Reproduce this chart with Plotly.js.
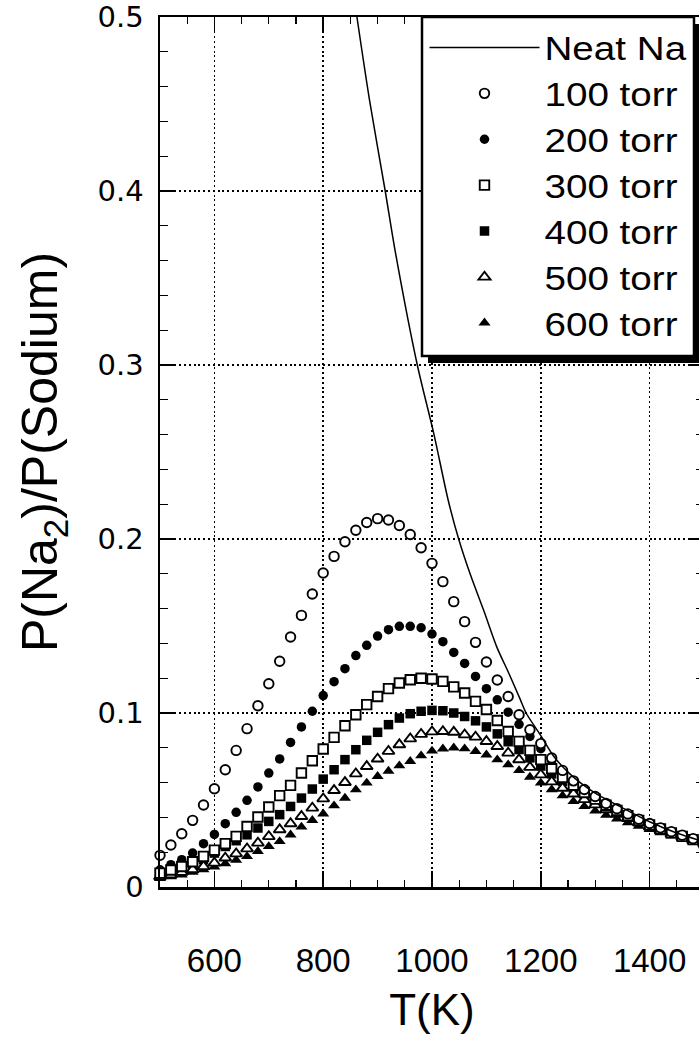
<!DOCTYPE html>
<html>
<head>
<meta charset="utf-8">
<script src="https://cdn.plot.ly/plotly-3.0.1.min.js"></script>
<style>
html,body{margin:0;padding:0;overflow:hidden;background:#fff;}
#chart{width:704px;height:1042px;}
.legendtext{transform-box:fill-box;transform-origin:0% 50%;transform:scaleX(1.17);}
</style>
</head>
<body>
<div id="chart"></div>
<script>
// Temperature grid of the measured points (K)
const temps = [500,520,540,560,580,600,620,640,660,680,700,720,740,760,780,800,820,840,860,880,900,920,940,960,980,1000,1020,1040,1060,1080,1100,1120,1140,1160,1180,1200,1220,1240,1260,1280,1300,1320,1340,1360,1380,1400,1420,1440,1460,1480,1500];

// P(Na2)/P(Sodium) for each buffer-gas pressure
const p100 = [0.0182,0.0241,0.0306,0.0383,0.0471,0.0565,0.0674,0.0785,0.0910,0.1042,0.1168,0.1297,0.1437,0.1561,0.1684,0.1805,0.1900,0.1984,0.2050,0.2095,0.2117,0.2109,0.2078,0.2026,0.1950,0.1860,0.1755,0.1640,0.1525,0.1406,0.1293,0.1190,0.1095,0.0990,0.0904,0.0824,0.0741,0.0670,0.0610,0.0560,0.0520,0.0480,0.0450,0.0420,0.0390,0.0365,0.0340,0.0318,0.0298,0.0278,0.0260];
const p200 = [0.0099,0.0128,0.0157,0.0195,0.0249,0.0302,0.0364,0.0429,0.0498,0.0575,0.0655,0.0736,0.0831,0.0920,0.1010,0.1100,0.1180,0.1255,0.1330,0.1389,0.1442,0.1479,0.1498,0.1498,0.1490,0.1454,0.1410,0.1348,0.1285,0.1210,0.1140,0.1076,0.1005,0.0935,0.0865,0.0795,0.0725,0.0660,0.0603,0.0555,0.0513,0.0475,0.0443,0.0413,0.0385,0.0360,0.0337,0.0315,0.0295,0.0276,0.0258];
const p300 = [0.0080,0.0098,0.0118,0.0145,0.0176,0.0212,0.0249,0.0291,0.0348,0.0402,0.0460,0.0525,0.0584,0.0655,0.0726,0.0793,0.0860,0.0927,0.0990,0.1048,0.1095,0.1140,0.1172,0.1191,0.1200,0.1195,0.1182,0.1150,0.1115,0.1067,0.1020,0.0957,0.0894,0.0837,0.0785,0.0732,0.0680,0.0630,0.0585,0.0543,0.0505,0.0470,0.0440,0.0410,0.0382,0.0356,0.0333,0.0311,0.0291,0.0272,0.0255];
const p400 = [0.0070,0.0085,0.0105,0.0130,0.0157,0.0195,0.0233,0.0266,0.0300,0.0339,0.0377,0.0416,0.0463,0.0511,0.0563,0.0620,0.0674,0.0732,0.0789,0.0843,0.0889,0.0933,0.0971,0.0996,0.1010,0.1015,0.1013,0.1000,0.0980,0.0955,0.0920,0.0880,0.0835,0.0790,0.0742,0.0695,0.0650,0.0608,0.0568,0.0532,0.0498,0.0465,0.0435,0.0406,0.0379,0.0353,0.0330,0.0308,0.0288,0.0269,0.0252];
const p500 = [0.0060,0.0070,0.0085,0.0100,0.0118,0.0138,0.0167,0.0191,0.0220,0.0253,0.0290,0.0330,0.0364,0.0406,0.0454,0.0507,0.0555,0.0601,0.0651,0.0693,0.0736,0.0780,0.0818,0.0852,0.0878,0.0892,0.0894,0.0890,0.0875,0.0862,0.0837,0.0808,0.0770,0.0732,0.0688,0.0645,0.0605,0.0568,0.0535,0.0503,0.0473,0.0445,0.0419,0.0394,0.0370,0.0347,0.0325,0.0305,0.0286,0.0267,0.0250];
const p600 = [0.0050,0.0060,0.0070,0.0085,0.0100,0.0115,0.0135,0.0155,0.0176,0.0205,0.0233,0.0262,0.0300,0.0345,0.0383,0.0421,0.0467,0.0511,0.0559,0.0598,0.0636,0.0666,0.0697,0.0722,0.0755,0.0782,0.0794,0.0800,0.0795,0.0780,0.0760,0.0732,0.0703,0.0670,0.0632,0.0598,0.0560,0.0525,0.0492,0.0463,0.0437,0.0413,0.0391,0.0370,0.0350,0.0331,0.0313,0.0296,0.0280,0.0264,0.0248];

// Neat sodium curve
const neatT = [862,885,914,932,973,1003,1030,1049,1070,1095,1119,1141,1162,1173,1200,1224,1250,1273,1300,1350,1400,1450,1500];
const neatRatio = [0.500,0.4525,0.400,0.366,0.300,0.261,0.222,0.200,0.180,0.159,0.138,0.123,0.108,0.100,0.087,0.075,0.066,0.0598,0.054,0.0455,0.0375,0.031,0.026];

// Axis ticks
const xTickVals = [600,800,1000,1200,1400];
const xTickText = ['600','800','1000','1200','1400'];
const yTickVals = [0,0.1,0.2,0.3,0.4,0.5];
const yTickText = ['0','0.1','0.2','0.3','0.4','0.5'];

const seriesNames = ['100 torr','200 torr','300 torr','400 torr','500 torr','600 torr'];

function pts(name, y, symbol, filled, rank){
  return {
    type:'scatter', mode:'markers', name:name, x:temps, y:y,
    legendrank: rank, cliponaxis:false,
    marker:{symbol:symbol, size: symbol.indexOf('triangle')===0 ? 10.5 : 9.5,
      color: filled ? '#000' : '#fff',
      line:{color:'#000', width: filled ? 0 : 1.9}}
  };
}

const traces = [
  pts(seriesNames[5], p600, 'triangle-up', true, 7),
  pts(seriesNames[3], p400, 'square', true, 5),
  pts(seriesNames[1], p200, 'circle', true, 3),
  pts(seriesNames[4], p500, 'triangle-up', false, 6),
  pts(seriesNames[2], p300, 'square', false, 4),
  pts(seriesNames[0], p100, 'circle', false, 2),
  {type:'scatter', mode:'lines', name:'Neat Na', x:neatT, y:neatRatio, legendrank:1, cliponaxis:true,
   line:{color:'#000', width:1.5, shape:'spline', smoothing:0.8}}
];

const px2paperX = p => (p-160)/544;
const px2paperY = p => (887-p)/870;
const FONT = 'Liberation Sans, Arial, sans-serif';

const layout = {
  width:704, height:1042,
  margin:{l:160, r:0, t:17, b:155},
  paper_bgcolor:'#fff', plot_bgcolor:'#fff',
  font:{family:FONT, color:'#000'},
  showlegend:true,
  xaxis:{
    range:[500,1500], tickmode:'array', tickvals:xTickVals, ticktext:xTickText,
    ticks:'inside', ticklen:14, tickwidth:1.6, tickcolor:'#000',
    minor:{tick0:500, dtick:50, ticks:'inside', ticklen:7, tickwidth:1.3, tickcolor:'#000', showgrid:false},
    showline:true, linewidth:2.5, linecolor:'#000', mirror:'ticks',
    showgrid:true, gridcolor:'#000', gridwidth:1.8, griddash:'2px,2.8px',
    zeroline:false, ticklabeloverflow:'allow',
    tickfont:{size:33, family:FONT, color:'#000'},
    ticklabelstandoff:43,
    title:{text:'T(K)', font:{size:44, family:FONT}, standoff:16}
  },
  yaxis:{
    range:[0,0.5], tickmode:'array', tickvals:yTickVals, ticktext:yTickText,
    ticks:'inside', ticklen:16, tickwidth:1.6, tickcolor:'#000',
    minor:{tick0:0, dtick:0.02, ticks:'inside', ticklen:8, tickwidth:1.3, tickcolor:'#000', showgrid:false},
    showline:true, linewidth:2.5, linecolor:'#000', mirror:'ticks',
    showgrid:true, gridcolor:'#000', gridwidth:1.8, griddash:'2px,2.8px',
    zeroline:false, ticklabeloverflow:'allow',
    tickfont:{size:29, family:'DejaVu Sans, sans-serif', color:'#000'},
    ticklabelstandoff:8,
    title:{text:'P(Na<sub>2</sub>)/P(Sodium)', font:{size:50, family:FONT}, standoff:24}
  },
  legend:{
    x:px2paperX(424.5), xanchor:'left', y:px2paperY(19.5), yanchor:'top',
    bgcolor:'rgba(0,0,0,0)', borderwidth:0,
    font:{size:33, family:FONT, color:'#000'},
    itemwidth:110, tracegroupgap:0
  },
  shapes:[
    {type:'rect', xref:'paper', yref:'paper', layer:'above',
     x0:px2paperX(428), x1:px2paperX(708), y0:px2paperY(363), y1:px2paperY(24),
     fillcolor:'#000', line:{width:0}},
    {type:'rect', xref:'paper', yref:'paper', layer:'above',
     x0:px2paperX(422), x1:px2paperX(694), y0:px2paperY(356), y1:px2paperY(17),
     fillcolor:'#fff', line:{color:'#000', width:2.5}}
  ]
};

Plotly.newPlot('chart', traces, layout, {displayModeBar:false, staticPlot:true});
</script>
</body>
</html>
